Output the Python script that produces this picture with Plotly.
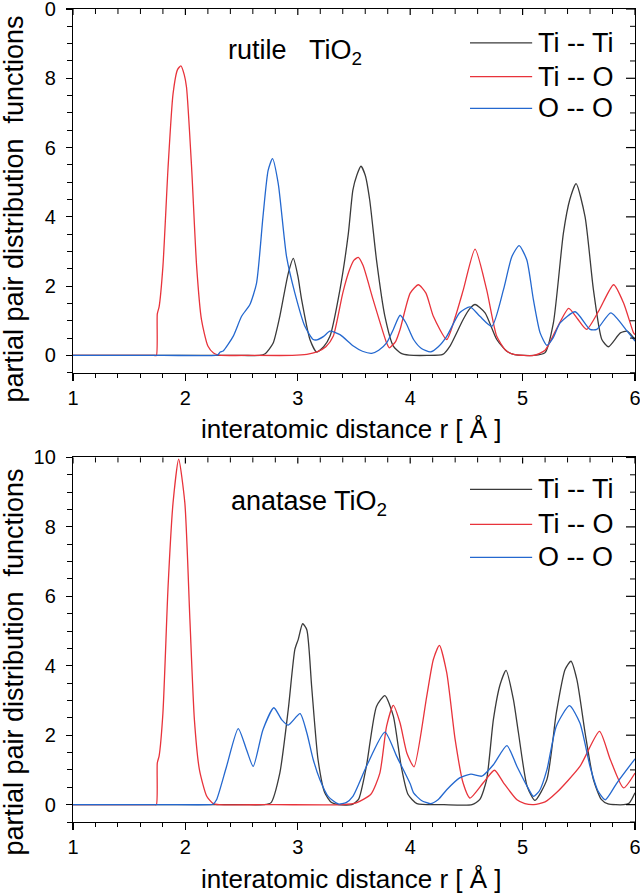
import plotly.graph_objects as go

# ---------------- data ----------------
# rutile TiO2
rut_TiTi_r = [1.0, 2.50, 2.66, 2.71, 2.78, 2.84, 2.915, 2.96, 3.00, 3.034, 3.108, 3.167, 3.23, 3.286, 3.375, 3.449,
              3.49, 3.525, 3.562, 3.60, 3.64, 3.70, 3.775, 3.85, 3.92, 3.99, 4.15, 4.29, 4.354, 4.47, 4.53, 4.577,
              4.666, 4.77, 4.86, 4.93, 5.10, 5.20, 5.274, 5.363, 5.42, 5.476, 5.556, 5.63, 5.705, 5.764, 5.87,
              5.93, 6.0]
rut_TiTi_g = [0, 0, 0, 0.05, 0.35, 1.13, 2.37, 2.8, 2.3, 1.61, 0.46, 0.1, 0.25, 0.55, 1.9, 3.5,
              4.77, 5.2, 5.46, 5.2, 4.48, 2.76, 1.13, 0.27, 0.06, 0.01, 0.0, 0.03, 0.27, 1.03, 1.35, 1.47,
              1.23, 0.46, 0.12, 0.02, 0.0, 0.08, 0.94, 3.53, 4.5, 4.96, 4.0, 1.9, 0.46, 0.25, 0.65,
              0.7, 0.46]

rut_TiO_r = [1.0, 1.5, 1.72, 1.742, 1.75, 1.766, 1.80, 1.846, 1.89, 1.93, 1.96, 1.99, 2.01, 2.055, 2.10, 2.143,
             2.20, 2.25, 2.30, 2.6, 2.95, 3.08, 3.17, 3.25, 3.315, 3.40, 3.46, 3.50, 3.538, 3.58, 3.67, 3.79,
             3.814, 3.87, 3.91, 4.0, 4.073, 4.14, 4.206, 4.325, 4.40, 4.473, 4.577, 4.68, 4.77, 4.85, 4.92,
             5.10, 5.20, 5.30, 5.41, 5.49, 5.57, 5.68, 5.81, 5.90, 5.987, 6.0]
rut_TiO_g = [0, 0, 0, 0, 1.2, 1.4, 2.57, 5.44, 7.55, 8.25, 8.36, 8.1, 7.74, 5.44, 2.57, 1.03,
             0.27, 0.07, 0.01, 0.0, 0.0, 0.03, 0.1, 0.25, 0.55, 1.8, 2.47, 2.75, 2.83, 2.6, 1.61, 0.36,
             0.22, 0.4, 0.75, 1.8, 2.04, 1.8, 1.13, 0.46, 1.1, 1.9, 3.07, 1.9, 0.55, 0.15, 0.03,
             0.0, 0.15, 0.75, 1.36, 1.05, 0.75, 1.3, 2.04, 1.5, 0.65, 0.6]

rut_OO_r = [1.0, 1.8, 2.27, 2.29, 2.31, 2.336, 2.425, 2.50, 2.574, 2.633, 2.69, 2.736, 2.775, 2.826, 2.90, 2.974,
            3.063, 3.137, 3.17, 3.23, 3.286, 3.375, 3.494, 3.575, 3.657, 3.72, 3.79, 3.85, 3.91, 3.96, 4.03, 4.10,
            4.18, 4.25, 4.325, 4.44, 4.532, 4.62, 4.726, 4.83, 4.904, 4.969, 5.037, 5.096, 5.156, 5.216, 5.27,
            5.334, 5.468, 5.60, 5.66, 5.785, 5.93, 6.0]
rut_OO_g = [0, 0, 0, 0.02, 0.1, 0.13, 0.55, 1.13, 1.47, 2.09, 4.0, 5.34, 5.68, 4.96, 2.85, 1.8,
            0.84, 0.46, 0.45, 0.55, 0.7, 0.6, 0.27, 0.12, 0.06, 0.15, 0.36, 0.75, 1.16, 0.95, 0.46, 0.2,
            0.1, 0.25, 0.55, 1.23, 1.4, 1.13, 0.84, 1.9, 2.85, 3.17, 2.76, 1.61, 0.65, 0.29, 0.5,
            0.94, 1.26, 0.75, 0.75, 1.23, 0.7, 0.41]

# anatase TiO2
ana_TiTi_r = [1.0, 2.50, 2.70, 2.76, 2.84, 2.915, 2.974, 3.004, 3.043, 3.08, 3.123, 3.18, 3.24, 3.30, 3.36, 3.48,
              3.54, 3.61, 3.70, 3.775, 3.85, 3.92, 3.98, 4.06, 4.30, 4.55, 4.62, 4.68, 4.74, 4.80, 4.853, 4.918,
              4.963, 5.04, 5.11, 5.216, 5.30, 5.378, 5.43, 5.483, 5.556, 5.63, 5.70, 5.76, 5.90, 5.95, 6.0]
ana_TiTi_g = [0, 0, 0, 0.05, 0.91, 2.74, 4.47, 4.76, 5.21, 5.04, 3.41, 1.3, 0.34, 0.06, 0.0, 0.0,
              0.15, 1.1, 2.83, 3.14, 2.55, 1.1, 0.3, 0.03, 0.0, 0.0, 0.15, 0.72, 2.45, 3.46, 3.87, 3.03,
              2.07, 0.53, 0.12, 0.72, 2.64, 3.89, 4.13, 3.6, 2.07, 0.72, 0.15, 0.02, 0.0, 0.05, 0.34]

ana_TiO_r = [1.0, 1.5, 1.72, 1.742, 1.75, 1.766, 1.80, 1.846, 1.89, 1.94, 1.995, 2.04, 2.08, 2.125, 2.19, 2.247,
             2.30, 2.8, 3.40, 3.52, 3.65, 3.73, 3.79, 3.85, 3.91, 3.97, 4.034, 4.147, 4.206, 4.26, 4.325, 4.40,
             4.47, 4.532, 4.65, 4.75, 4.83, 4.95, 5.02, 5.10, 5.20, 5.30, 5.51, 5.684, 5.78, 5.898, 6.0]
ana_TiO_g = [0, 0, 0, 0, 1.2, 1.4, 2.64, 6.29, 8.69, 9.95, 8.69, 5.33, 2.45, 1.0, 0.24, 0.03,
             0.0, 0.0, 0.0, 0.05, 0.3, 0.91, 2.26, 2.86, 2.35, 1.49, 1.09, 3.12, 4.18, 4.59, 3.8, 1.87,
             0.63, 0.19, 0.63, 0.99, 0.63, 0.14, 0.03, 0.0, 0.08, 0.34, 1.1, 2.11, 1.3, 0.48, 0.91]

ana_OO_r = [1.0, 1.8, 2.22, 2.245, 2.277, 2.366, 2.47, 2.544, 2.603, 2.69, 2.787, 2.856, 2.915, 3.02, 3.08, 3.137,
            3.197, 3.27, 3.36, 3.43, 3.49, 3.61, 3.775, 3.88, 4.0, 4.03, 4.10, 4.18, 4.25, 4.325, 4.44, 4.54,
            4.637, 4.74, 4.86, 4.95, 5.04, 5.096, 5.15, 5.216, 5.30, 5.417, 5.51, 5.60, 5.67, 5.735, 5.84, 6.0]
ana_OO_g = [0, 0, 0, 0.01, 0.14, 1.1, 2.19, 1.58, 1.1, 2.16, 2.79, 2.45, 2.29, 2.62, 2.07, 1.3,
            0.72, 0.24, 0.02, 0.06, 0.24, 1.1, 2.09, 1.39, 0.6, 0.34, 0.12, 0.03, 0.15, 0.43, 0.77, 0.88,
            0.82, 1.15, 1.7, 1.1, 0.53, 0.24, 0.4, 1.0, 2.26, 2.85, 2.35, 1.1, 0.4, 0.14, 0.63, 1.32]

series_names = ["Ti -- Ti", "Ti -- O", "O -- O"]
series_colors = ["#3a3a3a", "#e8333b", "#2468cf"]
panel_labels = ["rutile\u00a0\u00a0\u00a0TiO<sub>2</sub>", "anatase TiO<sub>2</sub>"]
x_ticks = [1, 2, 3, 4, 5, 6]
y_tickvals = [0, 2, 4, 6, 8, 10]
y_ticktext_top = ["0", "2", "4", "6", "8", "0"]
y_ticktext_bot = ["0", "2", "4", "6", "8", "10"]

FONT = "Liberation Sans, Arial, Helvetica, sans-serif"
XR = [1, 6]
YR = [-0.5, 10]
top_dom = [0.5526, 1.0]
bot_dom = [0.0, 0.4484]
W, H = 640, 895
M = dict(l=73, r=5, t=9, b=73)
PW = W - M["l"] - M["r"]
PH = H - M["t"] - M["b"]

fig = go.Figure()

panels = [
    ("x", "y", top_dom, [(rut_TiTi_r, rut_TiTi_g), (rut_TiO_r, rut_TiO_g), (rut_OO_r, rut_OO_g)]),
    ("x2", "y2", bot_dom, [(ana_TiTi_r, ana_TiTi_g), (ana_TiO_r, ana_TiO_g), (ana_OO_r, ana_OO_g)]),
]

for xa, ya, _, data in panels:
    for (r, g), name, col in zip(data, series_names, series_colors):
        fig.add_trace(go.Scatter(x=r, y=g, mode="lines", name=name, xaxis=xa, yaxis=ya,
                                 line=dict(color=col, width=1.3, shape="spline", smoothing=0.6),
                                 showlegend=False, hoverinfo="skip"))

def xax_bottom(anchor):
    return dict(range=XR, anchor=anchor, domain=[0, 1], showline=True, mirror=True,
                linecolor="black", linewidth=1.2,
                automargin=False, fixedrange=True,
                tickmode="array", tickvals=x_ticks, ticks="outside", ticklen=7, tickwidth=1.2,
                tickcolor="black", showgrid=False, zeroline=False, ticklabelstandoff=0,
                ticklabeloverflow="allow",
                tickfont=dict(family=FONT, size=20, color="black"),
                minor=dict(tick0=1, dtick=0.2, ticks="outside", ticklen=4, tickwidth=1, tickcolor="black",
                           showgrid=False))

def yax_left(anchor, dom, ticktext):
    return dict(range=YR, anchor=anchor, domain=dom, showline=True, mirror=True,
                linecolor="black", linewidth=1.2,
                automargin=False, fixedrange=True,
                tickmode="array", tickvals=y_tickvals, ticktext=ticktext, ticks="outside", ticklen=6,
                tickwidth=1.2, tickcolor="black", showgrid=False, zeroline=False, ticklabelstandoff=6,
                ticklabeloverflow="allow",
                tickfont=dict(family=FONT, size=20, color="black"),
                minor=dict(tick0=0, dtick=0.5, ticks="outside", ticklen=5, tickwidth=1, tickcolor="black",
                           showgrid=False))

annotations = []
shapes = []

# inward-pointing ticks on the top and right edges (paper coordinates derived from the axis scales)
def px_x(t):
    return (t - XR[0]) / (XR[1] - XR[0])

def py_y(v, dom):
    return dom[0] + (v - YR[0]) / (YR[1] - YR[0]) * (dom[1] - dom[0])

top_tick_pos = [XR[0] + 0.2 * i for i in range(26)]
right_tick_pos = [YR[0] + 0.5 * i for i in range(22)]
for _, _, dom, _ in panels:
    for t in top_tick_pos:
        major = abs(t - round(t)) < 1e-6
        ln = (6 if major else 5) / PH
        shapes.append(dict(type="line", xref="paper", yref="paper", x0=px_x(t), x1=px_x(t),
                           y0=dom[1], y1=dom[1] - ln,
                           line=dict(color="black", width=1.2 if major else 1)))
    for v in right_tick_pos:
        major = abs(v / 2 - round(v / 2)) < 1e-6
        ln = (9 if major else 5) / PW
        shapes.append(dict(type="line", xref="paper", yref="paper", x0=1, x1=1 - ln,
                           y0=py_y(v, dom), y1=py_y(v, dom),
                           line=dict(color="black", width=1.2 if major else 1)))

# axis titles
for ypos in [0.484, -0.0705]:
    annotations.append(dict(xref="paper", yref="paper", x=0.4964, y=ypos, xanchor="center", yanchor="middle",
                            text="interatomic distance r [ Å ]", showarrow=False,
                            font=dict(family=FONT, size=26, color="black")))
for ypos in [0.7545, 0.1973]:
    annotations.append(dict(xref="paper", yref="paper", x=-0.105, y=ypos, xanchor="center", yanchor="middle",
                            text="partial pair distribution\u00a0\u00a0functions", textangle=-90,
                            showarrow=False, font=dict(family=FONT, size=27, color="black")))

# panel labels and legends (drawn in data coordinates of each panel)
legend_y = [[9.02, 8.05, 7.13], [9.08, 8.07, 7.12]]
label_pos = [(2.36, 8.75), (2.39, 8.68)]
for (xa, ya, _, _), lab, (lx, ly), lys in zip(panels, panel_labels, label_pos, legend_y):
    annotations.append(dict(xref=xa, yref=ya, x=lx, y=ly, xanchor="left", yanchor="middle", text=lab,
                            showarrow=False, font=dict(family=FONT, size=27, color="black")))
    for name, col, yy in zip(series_names, series_colors, lys):
        shapes.append(dict(type="line", xref=xa, yref=ya, x0=4.532, x1=5.085, y0=yy, y1=yy,
                           line=dict(color=col, width=1.3)))
        annotations.append(dict(xref=xa, yref=ya, x=5.12, y=yy, xanchor="left", yanchor="middle", text=name,
                                showarrow=False, font=dict(family=FONT, size=27, color="black")))

fig.update_layout(
    width=W, height=H,
    margin=dict(l=M["l"], r=M["r"], t=M["t"], b=M["b"], pad=0, autoexpand=False),
    paper_bgcolor="white", plot_bgcolor="white",
    showlegend=False,
    xaxis=xax_bottom("y"),
    yaxis=yax_left("x", top_dom, y_ticktext_top),
    xaxis2=xax_bottom("y2"),
    yaxis2=yax_left("x2", bot_dom, y_ticktext_bot),
    annotations=annotations,
    shapes=shapes,
)

fig.write_html("out.html", config={"displayModeBar": False, "staticPlot": True},
               post_script="document.body.style.margin='0';document.body.style.overflow='hidden';")
